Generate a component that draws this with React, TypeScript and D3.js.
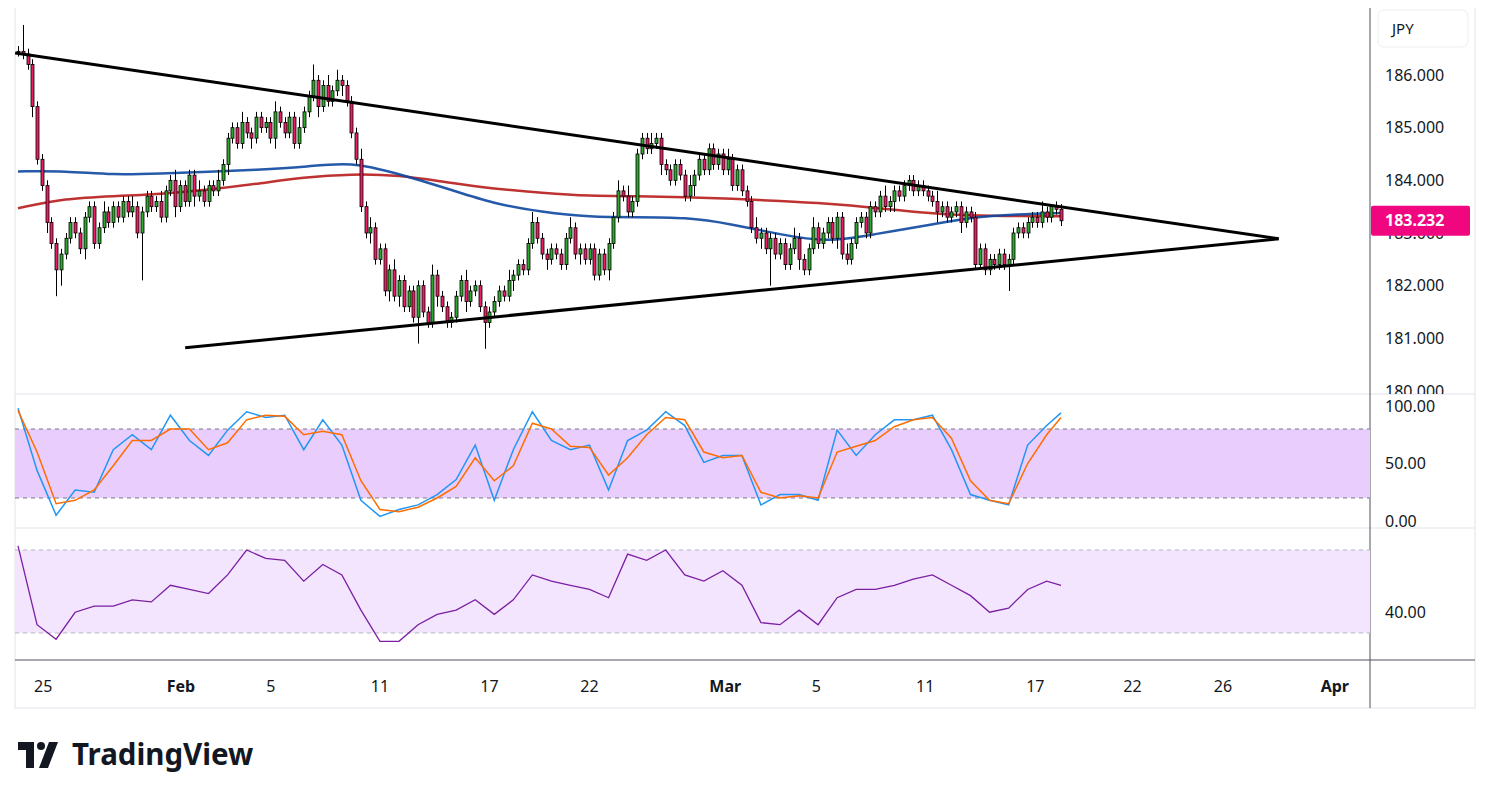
import { useEffect, useRef } from "react";
import * as d3 from "d3";

// 4H closes, bar 0..219
const closes = [
  186.45, 186.4, 186.2, 185.4, 184.4, 183.9, 183.2, 182.8, 182.3, 182.6,
  182.9, 183.2, 183.0, 182.7, 183.3, 183.5, 182.8, 183.1, 183.4, 183.2,
  183.5, 183.3, 183.6, 183.4, 183.5, 183.0, 183.4, 183.7, 183.5, 183.6,
  183.3, 183.8, 184.0, 183.5, 183.9, 183.6, 184.1, 183.7, 183.8, 183.6,
  183.9, 183.8, 184.0, 184.3, 184.8, 185.0, 184.7, 185.1, 184.9, 184.8,
  185.2, 185.0, 185.1, 184.8, 185.3, 185.1, 184.9, 185.2, 184.7, 185.0,
  185.3, 185.6, 185.9, 185.4, 185.8, 185.5, 185.7, 185.9, 185.8, 185.5,
  184.9, 184.4, 183.5, 183.0, 183.1, 182.5, 182.7, 181.9, 182.3, 181.8,
  182.1, 181.6, 181.9, 181.4, 182.0, 181.5, 181.3, 182.2, 181.8, 181.6,
  181.3, 181.4, 181.8, 182.1, 181.7, 181.9, 182.0, 181.6, 181.3, 181.5,
  181.7, 181.9, 181.8, 182.1, 182.2, 182.4, 182.3, 182.8, 183.2, 182.9,
  182.6, 182.5, 182.7, 182.6, 182.4, 182.9, 183.1, 182.6, 182.7, 182.5,
  182.7, 182.2, 182.6, 182.3, 182.8, 183.3, 183.8, 183.7, 183.4, 183.6,
  184.5, 184.8, 184.6, 184.7, 184.8, 184.3, 184.2, 184.0, 184.3, 184.1,
  183.7, 183.9, 184.1, 184.4, 184.2, 184.6, 184.3, 184.5, 184.2, 184.4,
  183.9, 184.2, 183.8, 183.6, 183.1, 182.9, 183.0, 182.7, 182.9, 182.6,
  182.8, 182.4, 182.7, 182.9, 182.5, 182.3, 182.7, 183.1, 182.8, 183.0,
  183.2, 182.9, 183.3, 182.6, 182.5, 182.8, 183.2, 183.3, 183.0, 183.5,
  183.4, 183.7, 183.5, 183.6, 183.8, 183.7, 183.9, 184.0, 183.8, 183.9,
  183.8, 183.7, 183.6, 183.4, 183.5, 183.3, 183.4, 183.5, 183.2, 183.4,
  183.3, 182.4, 182.7, 182.3, 182.5, 182.4, 182.6, 182.4, 182.5, 183.0,
  183.1, 183.0, 183.2, 183.3, 183.2, 183.4, 183.3, 183.5, 183.45, 183.232,
];
const firstOpen = 186.45;
// wick lengths in tenths above / below the body
const wickHi =
  "1511111111" + "1111111121" + "1111211111" + "2112111121" + "1121111211" +
  "1111211112" + "1131121211" + "1121211112" + "1111111211" + "1111211111" +
  "1112111121" + "1111112111" + "1111112121" + "1112111111" + "1211111112" +
  "1111121111" + "1112111211" + "1111211111" + "1121111111" + "1112111111" +
  "1111111111" + "1111121011";
const wickLo =
  "1112112153" + "1111211111" + "1111119111" + "1112111211" + "1111211112" +
  "1111211111" + "1112111121" + "1111211121" + "2111511121" + "1111211151" +
  "1111211111" + "1211111121" + "1111211111" + "1111121111" + "1121111111" +
  "1111112171" + "1111211111" + "1121111111" + "1111211111" + "1112111121" +
  "1111111151" + "1111111111";

// moving averages sampled every 10 bars (last at bar 219)
const maIdx = [0, 10, 20, 30, 40, 50, 60, 70, 80, 90, 100, 110, 120, 130, 140, 150, 160, 170, 180, 190, 200, 210, 219];
const maBlue = [184.17, 184.18, 184.1, 184.13, 184.16, 184.2, 184.25, 184.36, 184.12, 183.85, 183.55, 183.4, 183.3, 183.3, 183.3, 183.17, 182.97, 182.82, 182.98, 183.13, 183.3, 183.36, 183.38];
const maRed = [183.47, 183.66, 183.7, 183.74, 183.82, 183.93, 184.06, 184.12, 184.1, 183.96, 183.84, 183.76, 183.7, 183.7, 183.68, 183.65, 183.61, 183.56, 183.48, 183.38, 183.33, 183.32, 183.32];

// oscillators sampled every 4 bars (last at bar 219)
const oscIdx = [...d3.range(0, 217, 4), 219];
const stochK = [98, 44, 5, 27, 25, 62, 75, 62, 92, 70, 57, 79, 95, 90, 92, 62, 88, 66, 18, 4, 10, 14, 23, 36, 66, 18, 62, 95, 70, 62, 66, 27, 70, 79, 95, 83, 51, 57, 57, 14, 23, 23, 18, 79, 57, 75, 88, 88, 92, 62, 23, 18, 14, 66, 83, 94];
const stochD = [96, 60, 15, 18, 27, 48, 70, 70, 80, 80, 62, 68, 88, 92, 91, 75, 78, 75, 35, 10, 8, 12, 20, 30, 55, 35, 48, 85, 80, 65, 64, 40, 55, 75, 90, 88, 60, 55, 57, 25, 20, 22, 20, 60, 65, 70, 82, 88, 90, 72, 35, 18, 15, 50, 75, 90];
const rsi = [72, 34, 27, 40, 43, 43, 46, 45, 53, 51, 49, 58, 70, 66, 65, 55, 63, 58, 41, 26, 26, 34, 39, 41, 46, 39, 46, 58, 55, 53, 51, 47, 68, 65, 70, 58, 55, 60, 53, 35, 34, 41, 34, 47, 51, 51, 53, 56, 58, 53, 48, 40, 42, 51, 55, 53];

const upperLine: [number, number][] = [[-0.6, 186.42], [264.7, 182.89]];
const lowerLine: [number, number][] = [[35.1, 180.82], [264.7, 182.89]];

const timeTicks = [5.3, 34.2, 53.1, 76, 99, 120, 148.5, 167.6, 190.5, 213.6, 234, 253, 276.5];
const timeLabels = ["25", "Feb", "5", "11", "17", "22", "Mar", "5", "11", "17", "22", "26", "Apr"];
const priceTicks = [180, 181, 182, 183, 184, 185, 186];
const lastPrice = 183.232;

const FONT = "'Noto Sans', Roboto, sans-serif";

export default function App() {
  const ref = useRef<SVGSVGElement>(null);

  useEffect(() => {
    if (!ref.current) return;
    const svg = d3.select(ref.current);
    svg.selectAll("*").remove();

    const L = 15, R = 1370, AX = 1475;
    const mainTop = 5, mainBot = 394, stBot = 528, rsiBot = 660, timeBot = 708;

    const x = d3.scaleLinear().domain([0, 219]).range([18, 1061]);
    const y = d3.scaleLinear().domain([180, 186]).range([391, 75]);
    const ys = d3.scaleLinear().domain([0, 100]).range([521, 406]);
    const yr = d3.scaleLinear().domain([30, 70]).range([633, 550]);

    const defs = svg.append("defs");
    defs.append("clipPath").attr("id", "cMain").append("rect")
      .attr("x", L).attr("y", mainTop).attr("width", R - L).attr("height", mainBot - mainTop);
    defs.append("clipPath").attr("id", "cAxis").append("rect")
      .attr("x", R).attr("y", mainTop).attr("width", AX - R).attr("height", mainBot - mainTop);

    // frame
    svg.append("rect").attr("x", L).attr("y", mainTop).attr("width", AX - L).attr("height", timeBot - mainTop)
      .attr("fill", "#fff").attr("stroke", "#e0e3eb");
    [mainBot, stBot].forEach(v => svg.append("line").attr("x1", L).attr("x2", AX).attr("y1", v).attr("y2", v)
      .attr("stroke", "#e0e3eb"));
    svg.append("line").attr("x1", L).attr("x2", AX).attr("y1", rsiBot).attr("y2", rsiBot).attr("stroke", "#50535e");
    svg.append("line").attr("x1", R).attr("x2", R).attr("y1", mainTop).attr("y2", timeBot).attr("stroke", "#50535e");

    // main pane
    const gm = svg.append("g").attr("clip-path", "url(#cMain)");
    const line = d3.line<[number, number]>().x(d => x(d[0])).y(d => y(d[1]));

    const maLine = (vals: number[]) => d3.line<number>().x((_, i) => x(maIdx[i])).y(d => y(d)).curve(d3.curveBasis)(vals);
    gm.append("path").attr("d", maLine(maRed)!).attr("fill", "none").attr("stroke", "#b71c1c").attr("stroke-width", 2.5).attr("opacity", 0.9);
    gm.append("path").attr("d", maLine(maBlue)!).attr("fill", "none").attr("stroke", "#0d47a1").attr("stroke-width", 2.5).attr("opacity", 0.9);

    closes.forEach((c, i) => {
      const o = i === 0 ? firstOpen : closes[i - 1];
      const hi = Math.max(o, c) + +wickHi[i] * 0.1;
      const lo = Math.min(o, c) - +wickLo[i] * 0.1;
      const cx = Math.round(x(i)) + 0.5;
      gm.append("line").attr("x1", cx).attr("x2", cx).attr("y1", y(hi)).attr("y2", y(lo)).attr("stroke", "#000").attr("stroke-width", 1);
      const top = y(Math.max(o, c)), bh = Math.max(1, y(Math.min(o, c)) - top);
      gm.append("rect").attr("x", cx - 1.5).attr("y", top).attr("width", 3).attr("height", bh)
        .attr("fill", c >= o ? "#2ea82e" : "#e91e63").attr("stroke", "#000").attr("stroke-width", 0.8);
    });

    [upperLine, lowerLine].forEach(l => gm.append("path").attr("d", line(l)!).attr("fill", "none")
      .attr("stroke", "#000").attr("stroke-width", 3));

    // price axis
    const ga = svg.append("g").attr("clip-path", "url(#cAxis)");
    priceTicks.forEach(p => ga.append("text").attr("x", 1385).attr("y", y(p)).attr("dy", "0.35em")
      .attr("font-family", FONT).attr("font-size", 16).attr("fill", "#131722").text(p.toFixed(3)));
    svg.append("rect").attr("x", R + 1).attr("y", y(lastPrice) - 15).attr("width", 99).attr("height", 30).attr("rx", 2)
      .attr("fill", "#f0077f");
    svg.append("text").attr("x", 1385).attr("y", y(lastPrice)).attr("dy", "0.35em").attr("font-family", FONT)
      .attr("font-size", 16).attr("font-weight", "bold").attr("fill", "#fff").text(lastPrice.toFixed(3));
    svg.append("rect").attr("x", 1378).attr("y", 10).attr("width", 90).attr("height", 37).attr("rx", 6)
      .attr("fill", "#fff").attr("stroke", "#eceef2");
    svg.append("text").attr("x", 1392).attr("y", 29).attr("dy", "0.35em").attr("font-family", FONT)
      .attr("font-size", 15).attr("fill", "#131722").text("JPY");

    // stochastic pane
    svg.append("rect").attr("x", L).attr("y", ys(80)).attr("width", R - L).attr("height", ys(20) - ys(80)).attr("fill", "#e9cdfc");
    [80, 20].forEach(v => svg.append("line").attr("x1", L).attr("x2", R).attr("y1", ys(v)).attr("y2", ys(v))
      .attr("stroke", "#787b86").attr("stroke-dasharray", "4,4"));
    const oscLine = (sc: d3.ScaleLinear<number, number>, vals: number[]) =>
      d3.line<number>().x((_, i) => x(oscIdx[i])).y(d => sc(d))(vals);
    svg.append("path").attr("d", oscLine(ys, stochK)!).attr("fill", "none").attr("stroke", "#2196f3").attr("stroke-width", 1.5);
    svg.append("path").attr("d", oscLine(ys, stochD)!).attr("fill", "none").attr("stroke", "#ff6d00").attr("stroke-width", 1.5);
    [[100, "100.00"], [50, "50.00"], [0, "0.00"]].forEach(([v, t]) => svg.append("text").attr("x", 1385)
      .attr("y", ys(v as number)).attr("dy", "0.35em").attr("font-family", FONT).attr("font-size", 16)
      .attr("fill", "#131722").text(t as string));

    // RSI pane
    svg.append("rect").attr("x", L).attr("y", yr(70)).attr("width", R - L).attr("height", yr(30) - yr(70)).attr("fill", "#f3e5fd");
    [70, 30].forEach(v => svg.append("line").attr("x1", L).attr("x2", R).attr("y1", yr(v)).attr("y2", yr(v))
      .attr("stroke", "#b2b5be").attr("stroke-dasharray", "4,4"));
    svg.append("path").attr("d", oscLine(yr, rsi)!).attr("fill", "none").attr("stroke", "#7b1fa2").attr("stroke-width", 1.3);
    svg.append("text").attr("x", 1385).attr("y", yr(40)).attr("dy", "0.35em").attr("font-family", FONT)
      .attr("font-size", 16).attr("fill", "#131722").text("40.00");

    // time axis
    timeTicks.forEach((t, i) => {
      const isMonth = isNaN(+timeLabels[i]);
      svg.append("text").attr("x", x(t)).attr("y", 686).attr("dy", "0.35em").attr("text-anchor", "middle")
        .attr("font-family", FONT).attr("font-size", 16).attr("font-weight", isMonth ? "bold" : "normal")
        .attr("fill", "#131722").text(timeLabels[i]);
    });

    // logo
    const lg = svg.append("g").attr("fill", "#131722");
    lg.append("path").attr("d", "M18 742 H34 V768 H26 V750 H18 Z");
    lg.append("circle").attr("cx", 41).attr("cy", 746).attr("r", 4);
    lg.append("path").attr("d", "M49 742 H58 L48 768 H39 Z");
    lg.append("text").attr("x", 72).attr("y", 765).attr("font-family", FONT).attr("font-size", 29.5)
      .attr("font-weight", "bold").text("TradingView");
  }, []);

  return <svg ref={ref} width={1480} height={785} style={{ display: "block", margin: "-8px 0 0 -8px" }} />;
}
